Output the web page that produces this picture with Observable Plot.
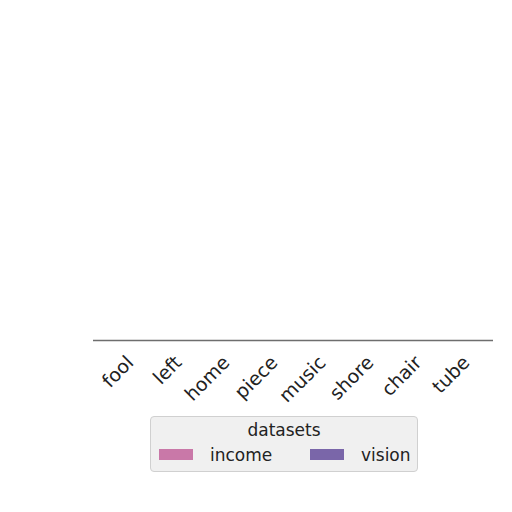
<!DOCTYPE html>
<html>
<head>
<meta charset="utf-8">
<script src="https://cdn.jsdelivr.net/npm/d3@7"></script>
<script src="https://cdn.jsdelivr.net/npm/@observablehq/plot@0.6"></script>
<style>
  html, body { margin: 0; padding: 0; background: #fff; }
  #wrap { position: relative; width: 512px; height: 512px; font-family: "DejaVu Sans", sans-serif; }
  #legend { position: absolute; left: 150px; top: 416px; width: 268px; height: 56px;
    background: #f0f0f0; border: 1px solid #d0d0d0; border-radius: 4px; box-sizing: border-box; }
  #legend .title { position: absolute; left: 0; right: 0; top: 3px; text-align: center; font-size: 17px; color: #222; }
  #legend .item { position: absolute; top: 28px; font-size: 17px; color: #222; white-space: nowrap; }
  #legend .sw { display: inline-block; width: 34px; height: 11px; margin-right: 17px; vertical-align: 1px; }
</style>
</head>
<body>
<div id="wrap"></div>
<script>
const categories = ["fool", "left", "home", "piece", "music", "shore", "chair", "tube"];
const seriesNames = ["income", "vision"];
const seriesColors = ["#c978a8", "#7a66a9"];
const income = [0, 0, 0, 0, 0, 0, 0, 0];
const vision = [0, 0, 0, 0, 0, 0, 0, 0];
const legendTitle = "datasets";

const rows = [];
categories.forEach((c, i) => {
  rows.push({cat: c, series: "income", value: income[i]});
  rows.push({cat: c, series: "vision", value: vision[i]});
});

const bw = 400 / categories.length;
const chart = Plot.plot({
  width: 512,
  height: 410,
  marginLeft: 93,
  marginRight: 19,
  marginTop: 20,
  marginBottom: 70,
  style: {fontFamily: "DejaVu Sans, sans-serif", fontSize: "19px", color: "#222", background: "transparent"},
  x: {domain: categories, padding: 0.2},
  y: {domain: [0, 1], axis: null},
  color: {domain: seriesNames, range: seriesColors},
  marks: [
    Plot.barY(rows.filter(d => d.series === "income"), {x: "cat", y: "value", fill: "series", insetRight: bw * 0.4}),
    Plot.barY(rows.filter(d => d.series === "vision"), {x: "cat", y: "value", fill: "series", insetLeft: bw * 0.4}),
    Plot.axisX({tickRotate: -45, tickSize: 0, tickPadding: 14, dx: 5, dy: 5, label: null, fontSize: 19, fill: "#222"}),
    Plot.ruleY([0], {stroke: "#6e6e6e", strokeWidth: 1.3})
  ]
});
const wrap = document.getElementById("wrap");
chart.style.position = "absolute";
chart.style.left = "0px";
chart.style.top = "0px";
wrap.appendChild(chart);

const lg = document.createElement("div");
lg.id = "legend";
const t = document.createElement("div");
t.className = "title";
t.textContent = legendTitle;
lg.appendChild(t);
const lefts = [8, 159];
seriesNames.forEach((n, i) => {
  const it = document.createElement("div");
  it.className = "item";
  it.style.left = lefts[i] + "px";
  const sw = document.createElement("span");
  sw.className = "sw";
  sw.style.background = seriesColors[i];
  it.appendChild(sw);
  it.appendChild(document.createTextNode(n));
  lg.appendChild(it);
});
wrap.appendChild(lg);
</script>
</body>
</html>
